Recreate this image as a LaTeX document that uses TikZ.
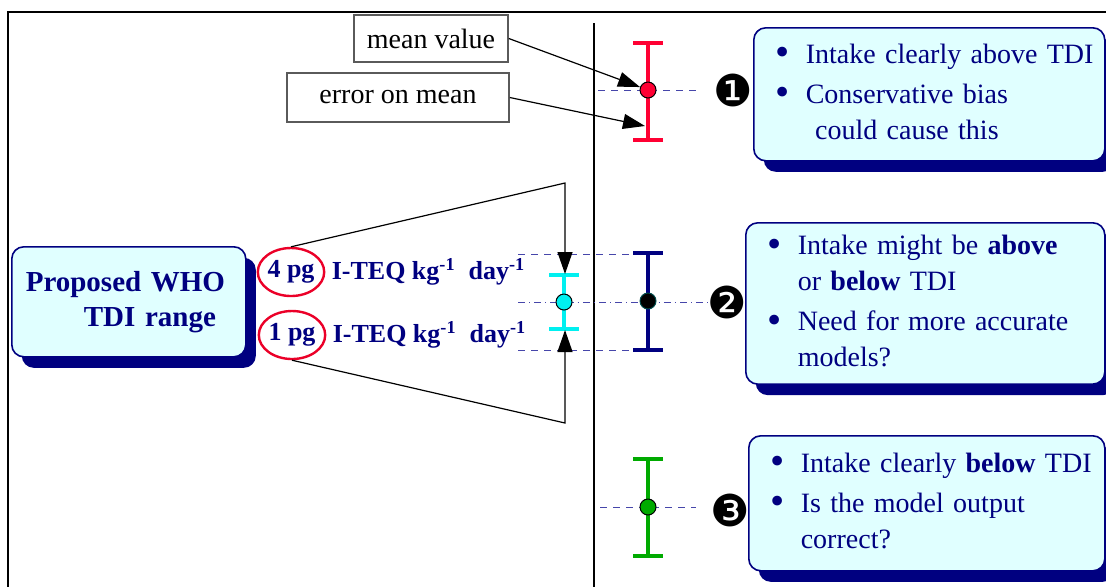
\documentclass[tikz,border=0pt]{standalone}
\usepackage{fontspec}
\setmainfont{Liberation Serif}
\newfontfamily\dingfont{DejaVu Sans}
\usetikzlibrary{shapes.geometric, arrows.meta, positioning, shadows}
\definecolor{navy}{RGB}{0,0,128}
\definecolor{boxfill}{RGB}{224,255,255}
\definecolor{guidecolor}{RGB}{70,70,170}
\definecolor{redbar}{RGB}{255,0,51}
\definecolor{cyanbar}{RGB}{0,240,240}
\definecolor{greenbar}{RGB}{0,170,0}
\definecolor{ovalred}{RGB}{235,0,40}
\definecolor{labelborder}{RGB}{90,90,90}
\tikzset{
    notebox/.style={rectangle, draw=navy, fill=boxfill, rounded corners=6pt, line width=0.8pt,
        drop shadow={shadow xshift=5pt, shadow yshift=-5.5pt, fill=navy, opacity=1},
        anchor=north west, align=left, inner xsep=11pt, text=navy, font=\fontsize{14}{18}\selectfont},
    labelbox/.style={rectangle, draw=labelborder, fill=white, line width=0.8pt,
        font=\fontsize{14}{16}\selectfont},
    oval/.style={ellipse, draw=ovalred, line width=1.2pt, minimum width=33pt, minimum height=24pt,
        inner sep=0pt, text=navy, font=\bfseries\fontsize{13}{15}\selectfont},
    teq/.style={inner sep=0pt, text=navy, font=\bfseries\fontsize{13}{15}\selectfont},
    dot/.style={circle, draw=black, line width=0.5pt, minimum size=8pt, inner sep=0pt},
    bar/.style={line width=1.6pt},
    guide/.style={guidecolor, line width=0.5pt, dash pattern=on 3.5pt off 3pt},
    guidedot/.style={guidecolor, line width=0.5pt, dash pattern=on 3.5pt off 2pt on 0.6pt off 2pt},
    arrow/.style={-{Triangle[length=11pt, width=7.5pt]}, line width=0.6pt},
    badge/.style={inner sep=0pt, font=\dingfont\fontsize{22}{22}\selectfont}
}
\newcommand{\errbar}[4]{\draw[bar, #1] (#2-15,#3) -- (#2+15,#3) (#2,#3) -- (#2,#4) (#2-15,#4) -- (#2+15,#4);}
\newcommand{\blt}{\makebox[15pt][l]{\raisebox{-1.2pt}[0pt][0pt]{\scalebox{1.45}{\textbullet}}}}

\begin{document}
\begin{tikzpicture}[x=0.5pt, y=-0.5pt]

    \useasboundingbox (0,0) rectangle (1106,586);
    \draw[line width=1pt] (8,590) -- (8,12) -- (1110,12);
    \draw[line width=0.7pt] (594,23) -- (594,590);

    \node[notebox, text width=103pt, minimum height=55pt, inner xsep=7pt,
        font=\bfseries\fontsize{14.5}{17.5}\selectfont] (who) at (11,246) {Proposed WHO\\\hspace*{29pt}TDI range};

    \node[oval] (e4) at (291,272) {4 pg};
    \node[oval] (e1) at (292,335) {1 pg};
    \node[teq, right=3pt of e4] (teq4) {I-TEQ kg\textsuperscript{-1}~~day\textsuperscript{-1}};
    \node[teq, right=3pt of e1] (teq1) {I-TEQ kg\textsuperscript{-1}~~day\textsuperscript{-1}};

    \draw[guide] (598,90) -- (702,90);
    \draw[guide] (518,254) -- (630,254);
    \draw[guidedot] (518,302) -- (710,302);
    \draw[guide] (518,350) -- (632,350);
    \draw[guide] (600,507) -- (696,507);

    \errbar{redbar}{648}{43}{140}
    \errbar{cyanbar}{564}{275}{329}
    \errbar{navy}{648}{253}{350}
    \errbar{greenbar}{648}{459}{556}

    \node[dot, fill=redbar] (rdot) at (648,90) {};
    \node[dot, fill=cyanbar] (cdot) at (564,302) {};
    \node[dot, fill=black, draw=teal!60!black] (ndot) at (648,301) {};
    \node[dot, fill=greenbar] (gdot) at (648,507) {};

    \node[labelbox, minimum width=77pt, minimum height=23.5pt] (mean) at (431,38.5) {mean value};
    \node[labelbox, minimum width=111pt, minimum height=24.5pt] (errmean) at (398,97.5) {error on mean};

    \coordinate (rlow) at (645,126);
    \draw[arrow] (mean.east) -- (rdot);
    \draw[arrow] (errmean.east) -- (rlow);

    \coordinate (ftop) at (565,183);
    \coordinate (ctop) at (565,274);
    \coordinate (fbot) at (565,423);
    \coordinate (cbot) at (565,330);
    \draw[arrow] (e4.north) -- (ftop) -- (ctop);
    \draw[arrow] (e1.south) -- (fbot) -- (cbot);

    \node[badge] (b1) at (733,90) {❶};
    \node[badge] (b2) at (727,302) {❷};
    \node[badge] (b3) at (730,510) {❸};

    \node[notebox, text width=153.5pt, minimum height=66.5pt] (note1) at (753,27) {%
        \begin{tabular}{@{}l@{}l@{}}
        \blt & Intake clearly above TDI\\[2pt]
        \blt & Conservative bias\\
         & ~could cause this
        \end{tabular}};

    \node[notebox, text width=157.5pt, minimum height=77.5pt] (note2) at (745,222) {%
        \begin{tabular}{@{}l@{}l@{}}
        \blt & Intake might be \textbf{above}\\
         & or \textbf{below} TDI\\[2pt]
        \blt & Need for more accurate\\
         & models?
        \end{tabular}};

    \node[notebox, text width=156pt, minimum height=67.5pt] (note3) at (748,435) {%
        \begin{tabular}{@{}l@{}l@{}}
        \blt & Intake clearly \textbf{below} TDI\\[2pt]
        \blt & Is the model output\\
         & correct?
        \end{tabular}};

\end{tikzpicture}
\end{document}
